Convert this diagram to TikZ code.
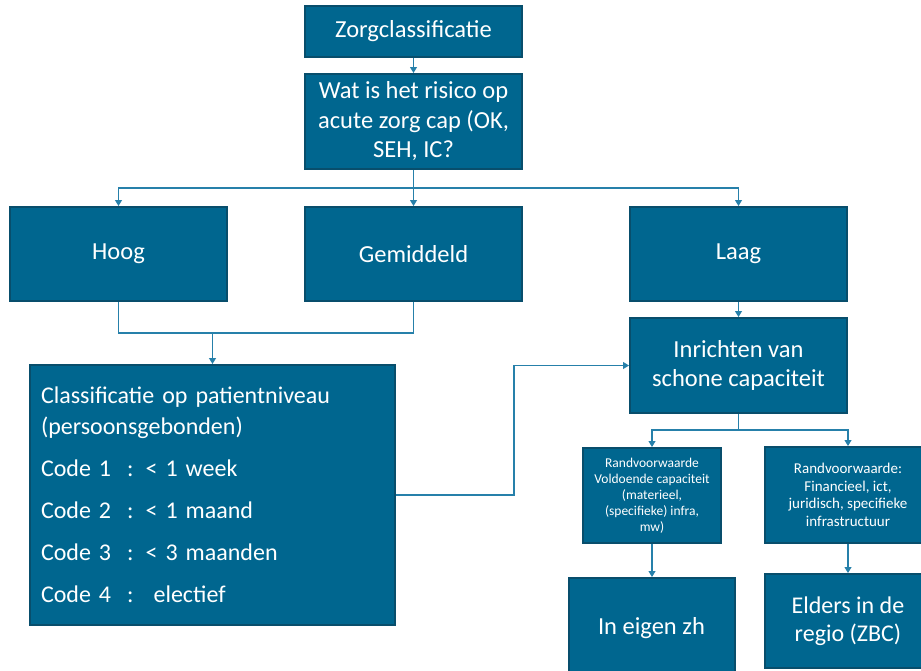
\documentclass[tikz,border=0pt]{standalone}
\usepackage{fontspec}
\setmainfont{Carlito}
\usetikzlibrary{arrows.meta}
\definecolor{boxfill}{RGB}{0,102,143}
\definecolor{boxline}{RGB}{8,78,108}
\definecolor{linecol}{RGB}{38,128,170}
\tikzset{
  box/.style={draw=boxline, line width=2pt, fill=boxfill, text=white, align=center, inner sep=2pt},
  conn/.style={draw=linecol, line width=1.1pt, -{Triangle[length=6pt,width=7pt]}},
  plain/.style={draw=linecol, line width=1.1pt},
  big/.style={font=\fontsize{24.5}{29.5}\selectfont},
}
\begin{document}
\begin{tikzpicture}[x=1pt,y=-1pt]
\useasboundingbox (0,0) rectangle (921,670);
\node[box,big,minimum width=217pt,minimum height=51pt] (zorg) at (413.5,31.5) {Zorgclassificatie};
\node[box,big,minimum width=217pt,minimum height=95pt] (wat) at (413.5,121.5) {Wat is het risico op\\acute zorg cap (OK,\\SEH, IC?};
\node[box,big,minimum width=217pt,minimum height=94pt] (hoog) at (118.5,254) {Hoog};
\node[box,big,minimum width=217pt,minimum height=94pt] (gem) at (413.5,254) {Gemiddeld};
\node[box,big,minimum width=217pt,minimum height=94pt] (laag) at (738.5,254) {Laag};
\node[box,big,minimum width=217pt,minimum height=95pt] (inr) at (738.5,365.5) {Inrichten van\\schone capaciteit};
\node[box,minimum width=365pt,minimum height=260pt,text width=343pt,inner xsep=11pt,align=left,
  font=\fontsize{24}{31}\selectfont] (cls) at (212.5,495)
  {Classificatie op patientniveau\\(persoonsgebonden)\\[11pt]Code 1~ : < 1 week\\[11pt]Code 2~ : < 1 maand\\[11pt]Code 3~ : < 3 maanden\\[11pt]Code 4~ : ~electief};
\node[box,minimum width=138pt,minimum height=95pt,font=\fontsize{13.5}{16}\selectfont] (r1) at (652,495.5)
  {Randvoorwaarde\\Voldoende capaciteit\\(materieel,\\(specifieke) infra,\\mw)};
\node[box,minimum width=166pt,minimum height=96pt,font=\fontsize{15}{17.5}\selectfont] (r2) at (848,495)
  {Randvoorwaarde:\\Financieel, ict,\\juridisch, specifieke\\infrastructuur};
\node[box,minimum width=166pt,minimum height=100pt,font=\fontsize{24.5}{28}\selectfont] (eig) at (651.5,628) {In eigen zh};
\node[box,minimum width=166pt,minimum height=94pt,font=\fontsize{24}{28}\selectfont] (eld) at (848,621) {Elders in de\\regio (ZBC)};
% connectors
\coordinate (j1) at (413.5,188);
\coordinate (j2) at (212.5,333);
\coordinate (j3) at (738.5,430);
\draw[conn] (zorg.south) -- (wat.north);
\draw[plain] (wat.south) -- (j1);
\draw[conn] (j1) -| (hoog.north);
\draw[conn] (j1) -- (gem.north);
\draw[conn] (j1) -| (laag.north);
\draw[plain] (hoog.south) |- (j2);
\draw[plain] (gem.south) |- (j2);
\draw[conn] (j2) -- (cls.north);
\draw[conn] (laag.south) -- (inr.north);
\draw[conn] (cls.east) -- ++(118,0) |- (inr.west);
\draw[plain] (inr.south) -- (j3);
\draw[conn] (j3) -| (r1.north);
\draw[conn] (j3) -| (r2.north);
\draw[conn] (r1.south) -- (r1.south |- eig.north);
\draw[conn] (r2.south) -- (eld.north);
\end{tikzpicture}
\end{document}
